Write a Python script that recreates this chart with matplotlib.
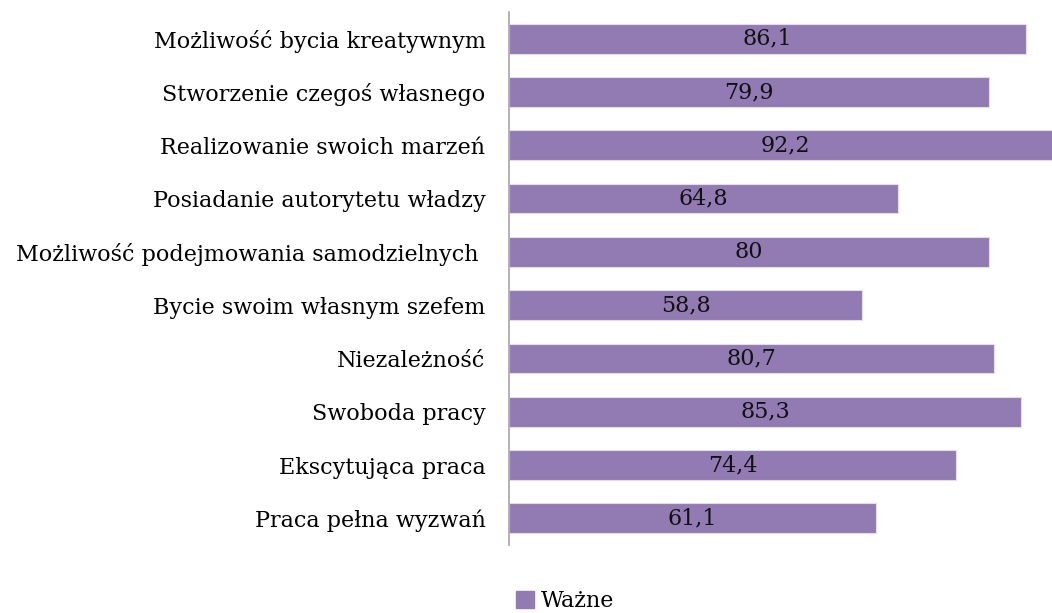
import matplotlib.pyplot as plt
from matplotlib.patches import Patch

# data (top to bottom)
categories = [
    "Możliwość bycia kreatywnym",
    "Stworzenie czegoś własnego",
    "Realizowanie swoich marzeń",
    "Posiadanie autorytetu władzy",
    "Możliwość podejmowania samodzielnych ",
    "Bycie swoim własnym szefem",
    "Niezależność",
    "Swoboda pracy",
    "Ekscytująca praca",
    "Praca pełna wyzwań",
]
values = [86.1, 79.9, 92.2, 64.8, 80, 58.8, 80.7, 85.3, 74.4, 61.1]
series_name = "Ważne"

plt.rcParams['font.family'] = ['DejaVu Serif']
bar_color = "#927AB2"
fs = 16

fig = plt.figure(figsize=(10.52, 6.13), dpi=100)
W, H = 1052, 613
x0, ytop, ybot = 509, 12, 545
px_per_unit = 6.005
xmax = 100
ax = fig.add_axes([x0 / W, 1 - ybot / H, xmax * px_per_unit / W, (ybot - ytop) / H])

ypos = list(range(len(categories)))
ax.barh(ypos, values, height=0.56, color=bar_color, edgecolor="#E4DDEC", linewidth=0.8)
ax.set_xlim(0, xmax)
ax.set_ylim(len(categories) - 0.5, -0.5)

for y, v in zip(ypos, values):
    label = f"{v:g}".replace(".", ",")
    ax.text(v / 2, y, label, ha="center", va="center", fontsize=fs, color="#111111")

ax.set_yticks(ypos)
ax.set_yticklabels(categories, fontsize=fs)
ax.tick_params(axis="y", length=0, pad=17)
ax.set_xticks([])
for s in ["top", "right", "bottom"]:
    ax.spines[s].set_visible(False)
ax.spines["left"].set_color("#A6A6A6")
ax.spines["left"].set_linewidth(1.2)

fig.legend(handles=[Patch(color=bar_color, label=series_name)],
           loc="center", bbox_to_anchor=(565 / W, 1 - 601 / H), frameon=False,
           fontsize=fs, handlelength=0.8, handleheight=0.8, handletextpad=0.3)

fig.savefig("out.png", dpi=100)
